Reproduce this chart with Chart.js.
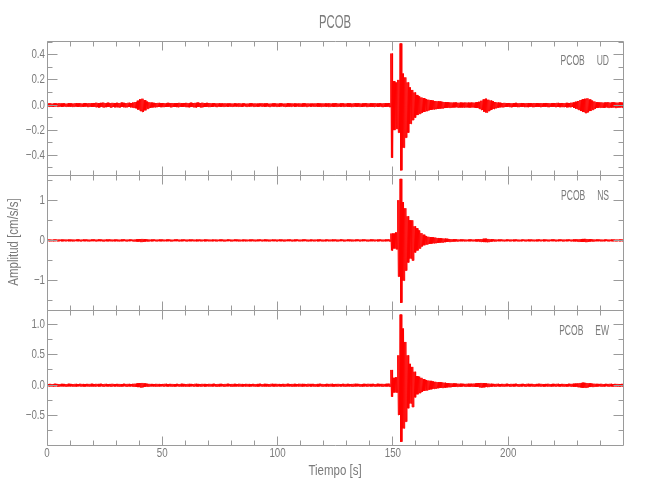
<!DOCTYPE html>
<html>
<head>
<meta charset="utf-8">
<title>PCOB</title>
<script src="https://cdn.jsdelivr.net/npm/chart.js@4.4.1/dist/chart.umd.min.js"></script>
<style>
  html, body { margin: 0; padding: 0; background: #fff; }
</style>
</head>
<body>
<canvas id="seis" width="650" height="500"></canvas>
<script>
const station = "PCOB";
const channels = ["UD", "NS", "EW"];
const xTitle = "Tiempo [s]";
const yTitle = "Amplitud [cm/s/s]";

// time axis
const xRange = [0, 249.8];
const xTicks = [0, 50, 100, 150, 200];
const xLabels = ["0", "50", "100", "150", "200"];
const xMinor = [10, 20, 30, 40, 60, 70, 80, 90, 110, 120, 130, 140, 160, 170, 180, 190, 210, 220, 230, 240];

// one y axis per component
const udRange = [-0.563, 0.51];
const udTicks = [-0.4, -0.2, 0, 0.2, 0.4];
const udLabels = ["\u22120.4", "\u22120.2", "0.0", "0.2", "0.4"];
const udMinor = [-0.5, -0.3, -0.1, 0.1, 0.3, 0.5];

const nsRange = [-1.74, 1.61];
const nsTicks = [-1, 0, 1];
const nsLabels = ["\u22121", "0", "1"];
const nsMinor = [-1.5, -0.5, 0.5, 1.5];

const ewRange = [-0.984, 1.23];
const ewTicks = [-0.5, 0, 0.5, 1.0];
const ewLabels = ["\u22120.5", "0.0", "0.5", "1.0"];
const ewMinor = [-0.75, -0.25, 0.25, 0.75];

// trace envelope, one value per second (max and min of the record in that second)
const udMax = [
  .012,.014,.011,.013,.012,.015,.012,.013,.011,.014, .013,.012,.015,.013,.014,.012,.016,.013,.015,.014,
  .016,.018,.015,.017,.019,.016,.018,.015,.017,.016, .018,.016,.019,.017,.015,.018,.016,.020,.024,.034,
  .046,.050,.038,.028,.022,.019,.017,.016,.017,.015, .016,.014,.017,.015,.016,.014,.015,.017,.014,.016,
  .017,.015,.018,.016,.017,.019,.016,.018,.015,.017, .016,.014,.015,.013,.014,.012,.013,.014,.012,.013,
  .012,.013,.011,.014,.012,.013,.011,.012,.014,.012, .013,.011,.012,.014,.012,.013,.011,.012,.013,.012,
  .012,.013,.011,.012,.014,.012,.013,.012,.011,.013, .012,.014,.012,.013,.011,.012,.013,.014,.012,.013,
  .013,.012,.014,.012,.013,.015,.012,.013,.014,.012, .014,.013,.012,.015,.013,.014,.012,.013,.015,.013,
  .014,.013,.015,.012,.014,.013,.015,.014,.016,.410, .190,.180,.200,.490,.250,.220,.180,.140,.120,.100,
  .080,.070,.060,.055,.048,.042,.038,.035,.032,.030, .028,.026,.024,.022,.021,.020,.019,.020,.018,.019,
  .018,.020,.019,.018,.020,.019,.022,.026,.034,.044, .050,.042,.036,.030,.024,.020,.018,.016,.017,.015,
  .016,.014,.015,.017,.014,.016,.015,.014,.016,.015, .014,.016,.015,.013,.015,.014,.016,.015,.014,.016,
  .015,.017,.014,.016,.015,.017,.016,.018,.020,.026, .032,.040,.046,.050,.053,.044,.036,.028,.022,.020,
  .021,.019,.020,.022,.019,.021,.020,.019,.021,.020
];
const udMin = [
  -.013,-.012,-.014,-.011,-.013,-.012,-.014,-.012,-.013,-.012, -.014,-.013,-.012,-.015,-.013,-.014,-.012,-.015,-.013,-.016,
  -.015,-.017,-.019,-.016,-.018,-.017,-.015,-.019,-.016,-.018, -.017,-.019,-.016,-.018,-.017,-.015,-.019,-.021,-.026,-.036,
  -.048,-.055,-.042,-.030,-.023,-.019,-.018,-.016,-.015,-.017, -.015,-.016,-.014,-.017,-.015,-.016,-.017,-.014,-.016,-.015,
  -.016,-.018,-.016,-.017,-.019,-.016,-.018,-.017,-.016,-.015, -.014,-.016,-.013,-.015,-.012,-.014,-.013,-.012,-.014,-.012,
  -.013,-.011,-.013,-.012,-.014,-.011,-.013,-.012,-.011,-.013, -.012,-.013,-.011,-.012,-.013,-.012,-.014,-.011,-.012,-.013,
  -.013,-.011,-.012,-.014,-.012,-.013,-.011,-.013,-.012,-.012, -.013,-.012,-.014,-.011,-.013,-.012,-.012,-.013,-.014,-.012,
  -.012,-.014,-.013,-.012,-.015,-.013,-.012,-.014,-.013,-.012, -.013,-.015,-.013,-.012,-.014,-.013,-.015,-.012,-.014,-.013,
  -.013,-.015,-.012,-.014,-.013,-.015,-.014,-.013,-.016,-.420, -.200,-.190,-.220,-.520,-.340,-.260,-.220,-.150,-.120,-.100,
  -.080,-.070,-.062,-.055,-.048,-.042,-.038,-.035,-.032,-.030, -.028,-.026,-.024,-.022,-.021,-.020,-.019,-.018,-.020,-.019,
  -.020,-.018,-.019,-.020,-.018,-.021,-.024,-.030,-.040,-.052, -.060,-.048,-.040,-.032,-.025,-.021,-.018,-.017,-.015,-.016,
  -.015,-.017,-.014,-.016,-.015,-.014,-.016,-.015,-.017,-.014, -.016,-.015,-.014,-.016,-.015,-.013,-.015,-.016,-.014,-.015,
  -.016,-.015,-.017,-.015,-.016,-.018,-.017,-.016,-.022,-.030, -.038,-.048,-.056,-.064,-.058,-.048,-.038,-.030,-.024,-.021,
  -.020,-.022,-.019,-.021,-.020,-.019,-.022,-.020,-.019,-.021
];

const nsMax = [
  .020,.022,.018,.021,.019,.023,.020,.018,.022,.020, .019,.021,.020,.023,.018,.021,.020,.022,.019,.021,
  .022,.020,.023,.021,.019,.022,.020,.024,.021,.020, .022,.019,.021,.023,.020,.022,.021,.019,.024,.028,
  .034,.036,.030,.025,.022,.020,.021,.019,.022,.020, .021,.019,.022,.020,.018,.021,.023,.020,.019,.021,
  .020,.022,.019,.021,.020,.018,.022,.020,.021,.019, .021,.020,.018,.022,.019,.021,.020,.019,.022,.020,
  .019,.021,.020,.022,.018,.020,.021,.019,.020,.022, .020,.019,.021,.020,.022,.019,.020,.021,.018,.020,
  .021,.020,.019,.022,.020,.021,.019,.020,.022,.019, .020,.022,.021,.019,.020,.018,.021,.020,.022,.020,
  .019,.021,.020,.022,.019,.021,.020,.023,.020,.019, .021,.020,.022,.019,.021,.020,.022,.021,.019,.020,
  .022,.020,.021,.019,.022,.020,.021,.020,.024,.170, .170,.200,1.00,1.53,.950,.800,.600,.500,.500,.350,
  .300,.250,.180,.140,.110,.090,.080,.075,.070,.060, .055,.050,.045,.040,.035,.030,.028,.025,.023,.022,
  .021,.022,.020,.023,.021,.022,.024,.028,.034,.040, .042,.036,.030,.026,.023,.021,.020,.022,.019,.021,
  .020,.022,.019,.021,.020,.018,.021,.020,.022,.019, .021,.020,.019,.022,.020,.021,.019,.020,.021,.022,
  .020,.019,.021,.020,.022,.019,.021,.020,.022,.024, .026,.032,.036,.038,.034,.030,.026,.023,.021,.020,
  .021,.019,.022,.020,.021,.019,.020,.022,.020,.021
];
const nsMin = [
  -.021,-.019,-.022,-.020,-.021,-.018,-.022,-.020,-.019,-.021, -.022,-.020,-.019,-.021,-.022,-.019,-.021,-.020,-.022,-.019,
  -.020,-.022,-.019,-.021,-.023,-.020,-.022,-.019,-.021,-.022, -.020,-.022,-.021,-.019,-.022,-.020,-.019,-.023,-.026,-.030,
  -.036,-.034,-.028,-.024,-.021,-.022,-.019,-.021,-.020,-.022, -.019,-.021,-.020,-.022,-.021,-.019,-.020,-.022,-.021,-.019,
  -.022,-.020,-.021,-.019,-.022,-.021,-.020,-.019,-.022,-.020, -.019,-.022,-.020,-.021,-.019,-.020,-.022,-.021,-.019,-.021,
  -.021,-.019,-.022,-.020,-.021,-.022,-.019,-.020,-.021,-.019, -.022,-.020,-.019,-.021,-.020,-.022,-.021,-.019,-.020,-.022,
  -.019,-.021,-.022,-.020,-.019,-.020,-.022,-.021,-.019,-.020, -.021,-.019,-.020,-.022,-.021,-.020,-.019,-.022,-.020,-.021,
  -.022,-.020,-.019,-.021,-.020,-.022,-.021,-.019,-.022,-.020, -.019,-.022,-.020,-.021,-.019,-.022,-.020,-.019,-.021,-.022,
  -.020,-.021,-.019,-.022,-.020,-.021,-.022,-.020,-.024,-.250, -.200,-.220,-.900,-1.55,-1.00,-.750,-.550,-.450,-.500,-.300,
  -.250,-.200,-.150,-.120,-.100,-.090,-.080,-.072,-.066,-.060, -.054,-.050,-.044,-.040,-.035,-.030,-.027,-.025,-.022,-.021,
  -.022,-.020,-.021,-.022,-.020,-.023,-.026,-.030,-.036,-.042, -.044,-.038,-.030,-.025,-.022,-.020,-.021,-.019,-.022,-.020,
  -.021,-.019,-.022,-.020,-.021,-.022,-.019,-.021,-.020,-.022, -.019,-.021,-.022,-.020,-.019,-.022,-.020,-.021,-.019,-.020,
  -.022,-.021,-.019,-.022,-.020,-.021,-.019,-.022,-.023,-.026, -.030,-.034,-.040,-.038,-.034,-.028,-.025,-.022,-.020,-.021,
  -.020,-.022,-.019,-.021,-.020,-.022,-.021,-.019,-.022,-.020
];

const ewMax = [
  .019,.021,.018,.022,.020,.019,.021,.020,.018,.022, .020,.019,.021,.018,.022,.020,.019,.021,.020,.022,
  .019,.021,.020,.022,.019,.021,.018,.020,.022,.019, .021,.020,.019,.022,.020,.021,.019,.022,.024,.030,
  .034,.036,.028,.024,.021,.020,.019,.021,.020,.018, .020,.022,.019,.021,.020,.018,.021,.019,.022,.020,
  .019,.021,.020,.018,.022,.020,.019,.021,.020,.019, .021,.020,.022,.019,.020,.021,.018,.020,.022,.019,
  .020,.021,.019,.022,.020,.019,.021,.020,.018,.021, .019,.020,.022,.019,.021,.020,.019,.022,.020,.021,
  .020,.019,.021,.020,.022,.019,.020,.021,.019,.022, .021,.020,.019,.022,.020,.021,.019,.020,.022,.020,
  .019,.021,.020,.022,.019,.020,.021,.019,.022,.020, .021,.019,.020,.022,.021,.020,.019,.021,.020,.022,
  .020,.021,.019,.022,.020,.021,.020,.022,.024,.250, .120,.130,.490,1.16,.930,.710,.490,.350,.300,.220,
  .150,.140,.120,.100,.085,.075,.070,.060,.055,.050, .048,.045,.040,.035,.032,.030,.028,.026,.024,.023,
  .022,.021,.023,.022,.024,.026,.030,.034,.036,.034, .030,.026,.023,.021,.020,.022,.019,.021,.020,.022,
  .019,.021,.020,.022,.019,.020,.021,.019,.022,.020, .021,.019,.020,.022,.021,.019,.020,.022,.019,.021,
  .020,.022,.019,.021,.020,.019,.022,.021,.023,.026, .030,.036,.040,.038,.034,.030,.026,.023,.021,.020,
  .022,.019,.021,.020,.022,.019,.021,.020,.019,.021
];
const ewMin = [
  -.020,-.018,-.021,-.019,-.022,-.020,-.019,-.021,-.022,-.019, -.021,-.020,-.022,-.019,-.020,-.021,-.022,-.019,-.021,-.020,
  -.022,-.019,-.021,-.020,-.022,-.019,-.021,-.022,-.019,-.021, -.020,-.022,-.021,-.019,-.022,-.020,-.021,-.023,-.026,-.032,
  -.036,-.034,-.027,-.023,-.021,-.019,-.022,-.020,-.021,-.019, -.021,-.019,-.022,-.020,-.021,-.022,-.019,-.021,-.020,-.022,
  -.020,-.022,-.019,-.021,-.020,-.022,-.021,-.019,-.022,-.020, -.019,-.021,-.020,-.022,-.021,-.019,-.022,-.020,-.019,-.021,
  -.022,-.020,-.021,-.019,-.022,-.021,-.019,-.022,-.020,-.019, -.021,-.022,-.019,-.021,-.020,-.022,-.021,-.019,-.022,-.020,
  -.019,-.021,-.022,-.020,-.019,-.021,-.022,-.020,-.021,-.019, -.022,-.020,-.021,-.019,-.022,-.020,-.021,-.022,-.019,-.021,
  -.020,-.022,-.019,-.021,-.022,-.020,-.019,-.021,-.020,-.022, -.019,-.021,-.022,-.020,-.019,-.021,-.022,-.020,-.021,-.019,
  -.021,-.020,-.022,-.019,-.021,-.022,-.020,-.021,-.024,-.190, -.120,-.120,-.490,-.930,-.710,-.600,-.380,-.300,-.360,-.200,
  -.150,-.130,-.110,-.095,-.085,-.075,-.068,-.060,-.055,-.050, -.046,-.043,-.040,-.036,-.032,-.030,-.028,-.026,-.024,-.023,
  -.021,-.023,-.022,-.024,-.023,-.026,-.030,-.034,-.038,-.035, -.031,-.027,-.024,-.022,-.021,-.019,-.022,-.020,-.021,-.019,
  -.022,-.020,-.021,-.019,-.022,-.021,-.020,-.022,-.019,-.021, -.020,-.022,-.019,-.021,-.020,-.022,-.021,-.019,-.022,-.020,
  -.021,-.019,-.022,-.020,-.021,-.022,-.020,-.023,-.025,-.028, -.032,-.038,-.042,-.040,-.036,-.031,-.027,-.024,-.022,-.020,
  -.021,-.022,-.019,-.021,-.020,-.022,-.019,-.021,-.022,-.020
];

// styles
const traceRed = "#ff0000";
const textGrey = "#7a7a7a";
const axisGrey = "#9a9a9a";
const face = "'Liberation Sans', Arial, sans-serif";

const panels = [
  { id: "yUD", ch: channels[0], range: udRange, ticks: udTicks, labels: udLabels, minor: udMinor, hi: udMax, lo: udMin },
  { id: "yNS", ch: channels[1], range: nsRange, ticks: nsTicks, labels: nsLabels, minor: nsMinor, hi: nsMax, lo: nsMin },
  { id: "yEW", ch: channels[2], range: ewRange, ticks: ewTicks, labels: ewLabels, minor: ewMinor, hi: ewMax, lo: ewMin }
];

// each second is hatched between its max and its min
function trace(hi, lo) {
  const pts = [];
  hi.forEach((v, i) => {
    pts.push({ x: i + 0.12, y: v });
    pts.push({ x: i + 0.37, y: lo[i] });
    pts.push({ x: i + 0.62, y: v });
    pts.push({ x: i + 0.87, y: lo[i] });
  });
  return pts;
}

const line = (v) => Math.floor(v) + 0.5;

// IDL lettering is tall and narrow, so text is squeezed sideways
function squeezed(ctx, text, x, y, size, sx, align, rot) {
  ctx.save();
  ctx.font = size + "px " + face;
  ctx.textAlign = align;
  ctx.textBaseline = "middle";
  ctx.translate(x, y);
  if (rot) ctx.rotate(rot);
  ctx.scale(sx, 1);
  ctx.fillText(text, 0, 0);
  ctx.restore();
}

// box, inward ticks on all sides and all lettering
const frame = {
  id: "frame",
  afterDatasetsDraw(chart) {
    const ctx = chart.ctx;
    const xs = chart.scales.x;
    const l = line(xs.left), r = line(xs.right);
    ctx.save();
    ctx.strokeStyle = axisGrey;
    ctx.lineWidth = 1;
    ctx.beginPath();
    panels.forEach((p) => {
      const ys = chart.scales[p.id];
      const t = line(ys.top), b = line(ys.bottom);
      ctx.rect(l, t, r - l, b - t);
      xTicks.concat(xMinor).forEach((v) => {
        const len = xTicks.includes(v) ? 9 : 5;
        const px = line(xs.getPixelForValue(v));
        ctx.moveTo(px, t); ctx.lineTo(px, t + len);
        ctx.moveTo(px, b); ctx.lineTo(px, b - len);
      });
      p.ticks.concat(p.minor).forEach((v) => {
        const len = p.ticks.includes(v) ? 10 : 5;
        const py = line(ys.getPixelForValue(v));
        ctx.moveTo(l, py); ctx.lineTo(l + len, py);
        ctx.moveTo(r, py); ctx.lineTo(r - len, py);
      });
    });
    ctx.stroke();

    ctx.fillStyle = textGrey;
    squeezed(ctx, station, (xs.left + xs.right) / 2, 23, 17.7, 0.64, "center");

    panels.forEach((p) => {
      const ys = chart.scales[p.id];
      p.ticks.forEach((v, i) => {
        squeezed(ctx, p.labels[i], xs.left - 2, ys.getPixelForValue(v), 13, 0.75, "right");
      });
      squeezed(ctx, station + "     " + p.ch, xs.right - 14, ys.top + 20.5, 14, 0.61, "right");
    });

    xTicks.forEach((v, i) => {
      squeezed(ctx, xLabels[i], xs.getPixelForValue(v), 453.5, 13, 0.75, "center");
    });
    squeezed(ctx, xTitle, (xs.left + xs.right) / 2, 471, 14, 0.82, "center");

    const mid = chart.scales[panels[1].id];
    squeezed(ctx, yTitle, 14.2, (mid.top + mid.bottom) / 2 - 1, 14, 0.82, "center", -Math.PI / 2);
    ctx.restore();
  }
};

const scales = {
  x: {
    type: "linear",
    position: "bottom",
    min: xRange[0],
    max: xRange[1],
    grid: { display: false },
    border: { display: false },
    ticks: { display: false },
    afterFit: (s) => { s.height = 55; }
  }
};

// stacked axes are laid out from the bottom up, so the last panel goes in first
panels.slice().reverse().forEach((p) => {
  scales[p.id] = {
    type: "linear",
    position: "left",
    stack: "panels",
    stackWeight: 1,
    min: p.range[0],
    max: p.range[1],
    grid: { display: false },
    border: { display: false },
    ticks: { display: false },
    afterFit: (s) => { s.width = 47; }
  };
});

new Chart(document.getElementById("seis"), {
  type: "line",
  data: {
    datasets: panels.map((p) => ({
      label: station + " " + p.ch,
      data: trace(p.hi, p.lo),
      yAxisID: p.id,
      xAxisID: "x",
      borderColor: traceRed,
      borderWidth: 1,
      borderJoinStyle: "bevel",
      pointRadius: 0,
      tension: 0,
      fill: false
    }))
  },
  options: {
    responsive: false,
    animation: false,
    devicePixelRatio: 1,
    parsing: false,
    normalized: true,
    layout: { padding: { top: 41, right: 27, bottom: 0, left: 0 } },
    scales: scales,
    plugins: {
      legend: { display: false },
      title: { display: false },
      tooltip: { enabled: false }
    }
  },
  plugins: [frame]
});
</script>
</body>
</html>
